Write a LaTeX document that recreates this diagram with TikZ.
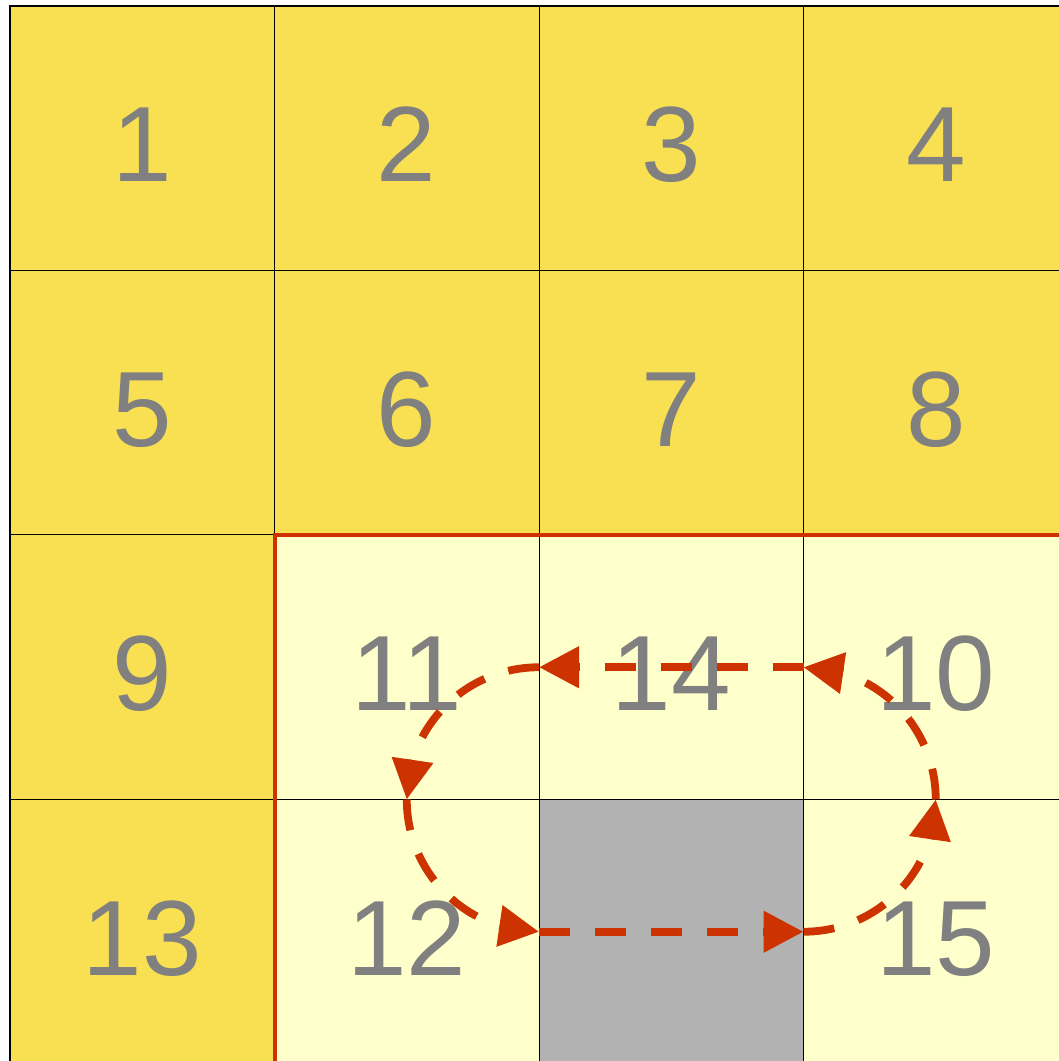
\documentclass[tikz,border=0pt]{standalone}
\usepackage{fontspec}
\setmainfont{Liberation Sans}
\usetikzlibrary{arrows.meta,bending}
\definecolor{cellY}{HTML}{F9DF52}
\definecolor{cellL}{HTML}{FFFFCC}
\definecolor{cellG}{HTML}{B2B2B2}
\definecolor{redc}{HTML}{CC3300}
\definecolor{numc}{HTML}{808080}
\begin{document}
\begin{tikzpicture}[x=1pt,y=1pt,
  cell/.style={draw=black, line width=1pt, minimum width=264.5pt, minimum height=264.5pt,
    inner sep=0pt, outer sep=0pt, text height=87.5pt, text depth=0pt, text=numc,
    font=\fontsize{107}{107}\selectfont},
  ycell/.style={cell, fill=cellY},
  lcell/.style={cell, fill=cellL},
  gcell/.style={cell, fill=cellG},
  flow/.style={draw=redc, line width=7.8pt, dash pattern=on 31pt off 25pt,
    -{Triangle[length=40pt,width=40pt]}},
  frameline/.style={draw=redc, line width=4pt},
  borderline/.style={draw=black, line width=2.5pt}]
\useasboundingbox (0,0) rectangle (1059,1061);
\fill[white] (0,0) rectangle (1059,1061);
% row 1
\node[ycell] (c1) at (142.25,922.75) {1};
\node[ycell] (c2) at (406.75,922.75) {2};
\node[ycell] (c3) at (671.25,922.75) {3};
\node[ycell] (c4) at (935.75,922.75) {4};
% row 2
\node[ycell] (c5) at (142.25,658.25) {5};
\node[ycell] (c6) at (406.75,658.25) {6};
\node[ycell] (c7) at (671.25,658.25) {7};
\node[ycell] (c8) at (935.75,658.25) {8};
% row 3
\node[ycell] (c9) at (142.25,393.75) {9};
\node[lcell] (c11) at (406.75,393.75) {11};
\node[lcell] (c14) at (671.25,393.75) {14};
\node[lcell] (c10) at (935.75,393.75) {10};
% row 4
\node[ycell] (c13) at (142.25,129.25) {13};
\node[lcell] (c12) at (406.75,129.25) {12};
\node[gcell] (gap) at (671.25,129.25) {};
\node[lcell] (c15) at (935.75,129.25) {15};
% outer border
\draw[borderline] ([yshift=-10pt]c13.south west) -- (c1.north west) -- ([xshift=10pt]c4.north east);
% red frame
\draw[frameline] ([yshift=-10pt]c12.south west) -- (c11.north west) -- ([xshift=10pt]c10.north east);
% cycle of moves
\draw[flow] (c10.west) -- (c14.west);
\draw[flow] (c14.west) to[out=180,in=90] (c12.north);
\draw[flow] (c12.north) to[out=270,in=180] (c12.east);
\draw[flow] (c12.east) -- (gap.east);
\draw[flow] (gap.east) to[out=0,in=270] (c15.north);
\draw[flow] (c15.north) to[out=90,in=0] (c10.west);
\end{tikzpicture}
\end{document}
